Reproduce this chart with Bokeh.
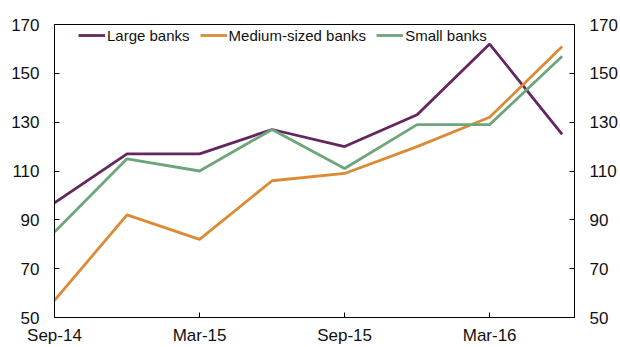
from bokeh.plotting import figure
from bokeh.models import LinearAxis, FixedTicker, Range1d, Legend, LegendItem
from bokeh.embed import file_html
from bokeh.resources import INLINE

quarters = ["Sep-14", "Dec-14", "Mar-15", "Jun-15", "Sep-15", "Dec-15", "Mar-16", "Jun-16"]
large_banks = [97, 117, 117, 127, 120, 133, 162, 125]
medium_banks = [57, 92, 82, 106, 109, 120, 132, 161]
small_banks = [85, 115, 110, 127, 111, 129, 129, 157]
y_ticks = [50, 70, 90, 110, 130, 150, 170]
x_tick_idx = [0, 2, 4, 6]

x = list(range(len(quarters)))

FONT = "Liberation Sans"

p = figure(width=620, height=347, output_backend="svg", toolbar_location=None,
           x_range=Range1d(0, 7.17), y_range=Range1d(50, 170),
           min_border_left=54, min_border_right=45, min_border_top=24, min_border_bottom=28)
p.background_fill_color = "white"
p.border_fill_color = "white"
p.outline_line_color = "black"
p.outline_line_width = 1
p.xgrid.visible = False
p.ygrid.visible = False

colors = {"large": "#652660", "medium": "#DB8B34", "small": "#6DA67A"}
r1 = p.line(x, large_banks, line_color=colors["large"], line_width=2.8)
r2 = p.line(x, medium_banks, line_color=colors["medium"], line_width=2.8)
r3 = p.line(x, small_banks, line_color=colors["small"], line_width=2.8)

def style_axis(ax):
    ax.axis_line_color = "black"
    ax.major_tick_line_color = "black"
    ax.major_tick_in = 5
    ax.major_tick_out = 0
    ax.minor_tick_line_color = None
    ax.major_label_text_font = FONT
    ax.major_label_text_font_size = "17px"
    ax.major_label_text_color = "#111111"

# x axis
xa = p.xaxis[0]
xa.ticker = FixedTicker(ticks=x_tick_idx)
xa.major_label_overrides = {i: quarters[i] for i in x_tick_idx}
style_axis(xa)
xa.major_label_standoff = 8

# left y axis
ya = p.yaxis[0]
ya.ticker = FixedTicker(ticks=y_ticks)
style_axis(ya)
ya.major_label_standoff = 15

# right y axis
ra = LinearAxis(ticker=FixedTicker(ticks=y_ticks))
style_axis(ra)
ra.major_label_standoff = 15
p.add_layout(ra, "right")

legend = Legend(items=[LegendItem(label="Large banks", renderers=[r1]),
                       LegendItem(label="Medium-sized banks", renderers=[r2]),
                       LegendItem(label="Small banks", renderers=[r3])],
                orientation="horizontal", location=(24, 272),
                glyph_width=27, glyph_height=20, label_standoff=2, spacing=10,
                padding=0, margin=0, border_line_color=None, background_fill_alpha=0,
                label_text_font=FONT, label_text_font_size="15px", label_text_color="#111111")
p.add_layout(legend, "center")

open("out.html", "w").write(file_html(p, INLINE))
